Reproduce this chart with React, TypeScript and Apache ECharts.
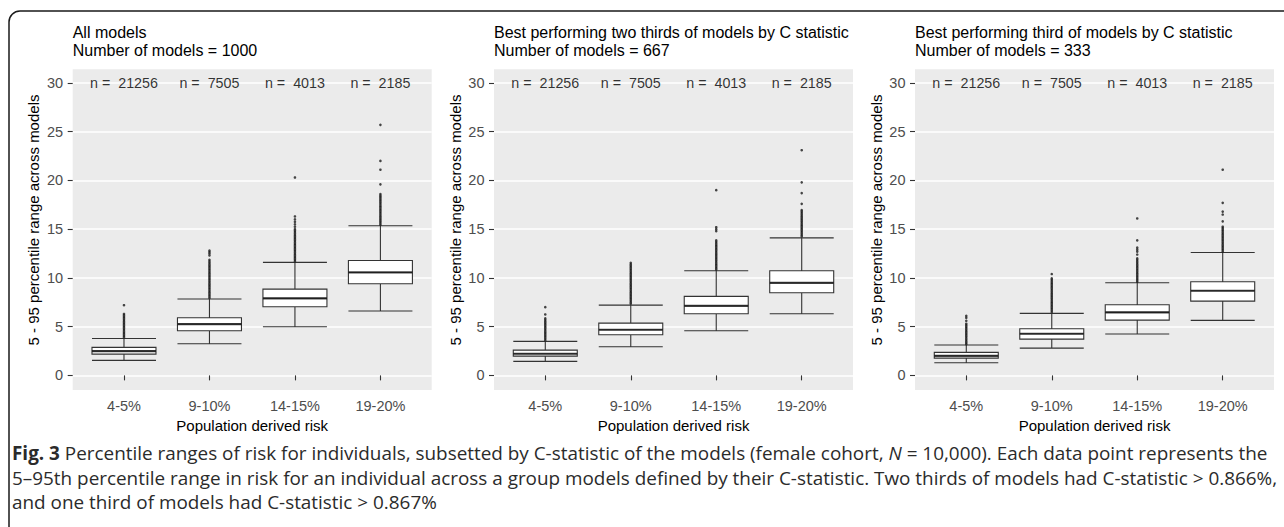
import React, { useEffect, useRef } from "react";
import * as echarts from "echarts";

// ---------- data ----------
const categories = ["4-5%", "9-10%", "14-15%", "19-20%"];
const nCounts = [21256, 7505, 4013, 2185];
const yTicks = [0, 5, 10, 15, 20, 25, 30];
const panelTitles = [
  "All models",
  "Best performing two thirds of models by C statistic",
  "Best performing third of models by C statistic",
];
const modelCounts = [1000, 667, 333];
const yAxisTitle = "5 - 95 percentile range across models";
const xAxisTitle = "Population derived risk";

// box stats per category: [min, Q1, median, Q3, max]
const boxAll = [
  [1.54, 2.18, 2.49, 2.87, 3.79],
  [3.24, 4.58, 5.26, 5.91, 7.83],
  [4.99, 7.04, 7.9, 8.85, 11.59],
  [6.6, 9.4, 10.56, 11.79, 15.35],
];
const boxTwoThirds = [
  [1.44, 1.98, 2.22, 2.59, 3.49],
  [2.94, 4.17, 4.68, 5.36, 7.21],
  [4.58, 6.32, 7.14, 8.1, 10.73],
  [6.32, 8.47, 9.5, 10.73, 14.11],
];
const boxThird = [
  [1.29, 1.77, 2.01, 2.36, 3.11],
  [2.8, 3.72, 4.27, 4.78, 6.36],
  [4.24, 5.67, 6.46, 7.24, 9.5],
  [5.64, 7.62, 8.68, 9.6, 12.6],
];

// outliers per category (dense strips read as closely spaced points)
const outAll = [
  [3.9, 4.05, 4.2, 4.35, 4.5, 4.65, 4.8, 4.95, 5.1, 5.25, 5.4, 5.55, 5.7, 5.85, 6.0, 6.15, 6.3, 7.2],
  [7.95, 8.1, 8.25, 8.4, 8.55, 8.7, 8.85, 9.0, 9.15, 9.3, 9.45, 9.6, 9.75, 9.9, 10.05, 10.2, 10.35, 10.5, 10.65, 10.8, 10.95, 11.1, 11.25, 11.4, 11.55, 11.7, 11.85, 12.3, 12.5, 12.65, 12.8],
  [11.7, 11.85, 12.0, 12.15, 12.3, 12.45, 12.6, 12.75, 12.9, 13.05, 13.2, 13.35, 13.5, 13.65, 13.8, 13.95, 14.1, 14.25, 14.4, 14.55, 14.7, 14.85, 15.0, 15.25, 15.5, 15.75, 16.0, 16.3, 20.3],
  [15.45, 15.6, 15.75, 15.9, 16.05, 16.2, 16.35, 16.5, 16.65, 16.8, 16.95, 17.1, 17.25, 17.4, 17.55, 17.7, 17.85, 18.0, 18.15, 18.3, 18.45, 18.6, 19.6, 21.1, 22.0, 25.7],
];
const outTwoThirds = [
  [3.6, 3.75, 3.9, 4.05, 4.2, 4.35, 4.5, 4.65, 4.8, 4.95, 5.1, 5.25, 5.4, 5.55, 5.7, 5.85, 6.25, 7.0],
  [7.35, 7.5, 7.65, 7.8, 7.95, 8.1, 8.25, 8.4, 8.55, 8.7, 8.85, 9.0, 9.15, 9.3, 9.45, 9.6, 9.75, 9.9, 10.05, 10.2, 10.35, 10.5, 10.65, 10.8, 10.95, 11.1, 11.25, 11.4, 11.55],
  [10.85, 11.0, 11.15, 11.3, 11.45, 11.6, 11.75, 11.9, 12.05, 12.2, 12.35, 12.5, 12.65, 12.8, 12.95, 13.1, 13.25, 13.4, 13.55, 13.7, 13.85, 14.8, 15.0, 15.2, 19.0],
  [14.25, 14.4, 14.55, 14.7, 14.85, 15.0, 15.15, 15.3, 15.45, 15.6, 15.75, 15.9, 16.05, 16.2, 16.35, 16.5, 16.65, 16.8, 16.95, 17.6, 18.7, 19.8, 23.1],
];
const outThird = [
  [3.2, 3.35, 3.5, 3.65, 3.8, 3.95, 4.1, 4.25, 4.4, 4.55, 4.7, 4.85, 5.0, 5.15, 5.3, 5.6, 5.9, 6.1],
  [6.5, 6.65, 6.8, 6.95, 7.1, 7.25, 7.4, 7.55, 7.7, 7.85, 8.0, 8.15, 8.3, 8.45, 8.6, 8.75, 8.9, 9.05, 9.2, 9.35, 9.5, 9.65, 9.8, 9.95, 10.4],
  [9.6, 9.75, 9.9, 10.05, 10.2, 10.35, 10.5, 10.65, 10.8, 10.95, 11.1, 11.25, 11.4, 11.55, 11.7, 11.85, 12.0, 12.4, 12.7, 12.9, 13.1, 13.85, 16.1],
  [12.7, 12.85, 13.0, 13.15, 13.3, 13.45, 13.6, 13.75, 13.9, 14.05, 14.2, 14.35, 14.5, 14.65, 14.8, 14.95, 15.1, 15.25, 15.8, 16.5, 16.8, 17.7, 21.1],
];

const captionLines = [
  "{b|Fig. 3} Percentile ranges of risk for individuals, subsetted by C-statistic of the models (female cohort, {i|N} = 10,000). Each data point represents the",
  "5\u201395th percentile range in risk for an individual across a group models defined by their C-statistic. Two thirds of models had C-statistic > 0.866%,",
  "and one third of models had C-statistic > 0.867%",
];

// ---------- layout ----------
const W = 1284;
const H = 527;
const panelLefts = [72.7, 494, 915];
const panelWidth = 359;
const panelTop = 69.3;
const panelHeight = 320.7;
const FONT = "'Liberation Sans', Arial, Helvetica, sans-serif";
const CAPFONT = "'Open Sans', 'Noto Sans', sans-serif";
const CAPSIZE = 18.9;

export default function App() {
  const ref = useRef<HTMLDivElement>(null);

  useEffect(() => {
    document.body.style.margin = "0";
    if (!ref.current) return;
    const chart = echarts.init(ref.current, null, { renderer: "svg" });

    const boxes = [boxAll, boxTwoThirds, boxThird];
    const outs = [outAll, outTwoThirds, outThird];
    const xPos = categories.map((_, k) => k + 1);

    const grids: any[] = [];
    const xAxes: any[] = [];
    const yAxes: any[] = [];
    const series: any[] = [];
    const graphics: any[] = [];

    panelLefts.forEach((left, i) => {
      grids.push({
        left,
        top: panelTop,
        width: panelWidth,
        height: panelHeight,
        show: true,
        backgroundColor: "#EBEBEB",
        borderWidth: 0,
      });
      xAxes.push({
        gridIndex: i,
        type: "value",
        min: 0.4,
        max: 4.6,
        axisLine: { show: false },
        splitLine: { show: false },
        axisTick: {
          show: true,
          length: 5,
          customValues: xPos,
          lineStyle: { color: "#333333", width: 1.1 },
        },
        axisLabel: {
          customValues: xPos,
          formatter: (v: number) => categories[Math.round(v) - 1] ?? "",
          color: "#4D4D4D",
          fontSize: 14.5,
          fontFamily: FONT,
          margin: 8,
        },
        name: xAxisTitle,
        nameLocation: "middle",
        nameGap: 24,
        nameTextStyle: { color: "#000", fontSize: 15, fontFamily: FONT },
      });
      yAxes.push({
        gridIndex: i,
        type: "value",
        min: -1.5,
        max: 31.4,
        axisLine: { show: false },
        axisTick: {
          show: true,
          length: 5,
          customValues: yTicks,
          lineStyle: { color: "#333333", width: 1.1 },
        },
        axisLabel: {
          customValues: yTicks,
          color: "#4D4D4D",
          fontSize: 14.5,
          fontFamily: FONT,
          margin: 9.5,
        },
        splitLine: { show: true, lineStyle: { color: "#FFFFFF", width: 1.5 } },
      });

      series.push({
        type: "boxplot",
        xAxisIndex: i,
        yAxisIndex: i,
        boxWidth: [64, 64],
        itemStyle: { color: "#FFFFFF", borderColor: "#333333", borderWidth: 1.1 },
        data: boxes[i].map((b, k) => [xPos[k], ...b]),
        silent: true,
        z: 2,
      });
      series.push({
        type: "scatter",
        xAxisIndex: i,
        yAxisIndex: i,
        symbol: "rect",
        symbolSize: [64, 2.2],
        itemStyle: { color: "#1A1A1A" },
        data: boxes[i].map((b, k) => [xPos[k], b[2]]),
        silent: true,
        z: 3,
      });
      const pts: number[][] = [];
      outs[i].forEach((arr, k) => arr.forEach((v) => pts.push([xPos[k], v])));
      series.push({
        type: "scatter",
        xAxisIndex: i,
        yAxisIndex: i,
        symbol: "circle",
        symbolSize: 2.6,
        itemStyle: { color: "#1A1A1A" },
        data: pts,
        silent: true,
        z: 4,
      });
      series.push({
        type: "scatter",
        xAxisIndex: i,
        yAxisIndex: i,
        symbolSize: 0,
        data: nCounts.map((_, k) => [xPos[k], 30]),
        label: {
          show: true,
          position: "inside",
          formatter: (p: any) => "n = \u00a0" + nCounts[p.dataIndex],
          color: "#000",
          fontSize: 14.3,
          fontFamily: FONT,
        },
        silent: true,
        z: 5,
      });

      graphics.push({
        type: "text",
        x: left,
        y: 32.8,
        style: {
          text: panelTitles[i],
          font: `16px ${FONT}`,
          fill: "#000",
          align: "left",
          verticalAlign: "middle",
        },
      });
      graphics.push({
        type: "text",
        x: left,
        y: 50.2,
        style: {
          text: "Number of models = " + modelCounts[i],
          font: `16px ${FONT}`,
          fill: "#000",
          align: "left",
          verticalAlign: "middle",
        },
      });
      graphics.push({
        type: "text",
        x: left - 39,
        y: 220,
        rotation: Math.PI / 2,
        style: {
          text: yAxisTitle,
          font: `15px ${FONT}`,
          fill: "#000",
          align: "center",
          verticalAlign: "middle",
        },
      });
    });

    captionLines.forEach((line, j) => {
      graphics.push({
        type: "text",
        x: 12,
        y: 453 + j * 24.5,
        style: {
          text: line,
          font: `${CAPSIZE}px ${CAPFONT}`,
          fill: "#2B2B2B",
          align: "left",
          verticalAlign: "middle",
          rich: {
            b: { fontWeight: "bold", fontSize: CAPSIZE, fontFamily: CAPFONT, fill: "#2B2B2B" },
            i: { fontStyle: "italic", fontSize: CAPSIZE, fontFamily: CAPFONT, fill: "#2B2B2B" },
          },
        },
      });
    });

    graphics.push({
      type: "rect",
      shape: { x: 9, y: 11, width: 1400, height: 700, r: [11, 0, 0, 0] },
      style: { fill: "none", stroke: "#1A1A1A", lineWidth: 1.5 },
      z: 10,
    });

    chart.setOption({
      animation: false,
      backgroundColor: "#FFFFFF",
      textStyle: { fontFamily: FONT },
      grid: grids,
      xAxis: xAxes,
      yAxis: yAxes,
      series,
      graphic: { elements: graphics },
    });

    return () => chart.dispose();
  }, []);

  return <div ref={ref} style={{ width: W, height: H }} />;
}
